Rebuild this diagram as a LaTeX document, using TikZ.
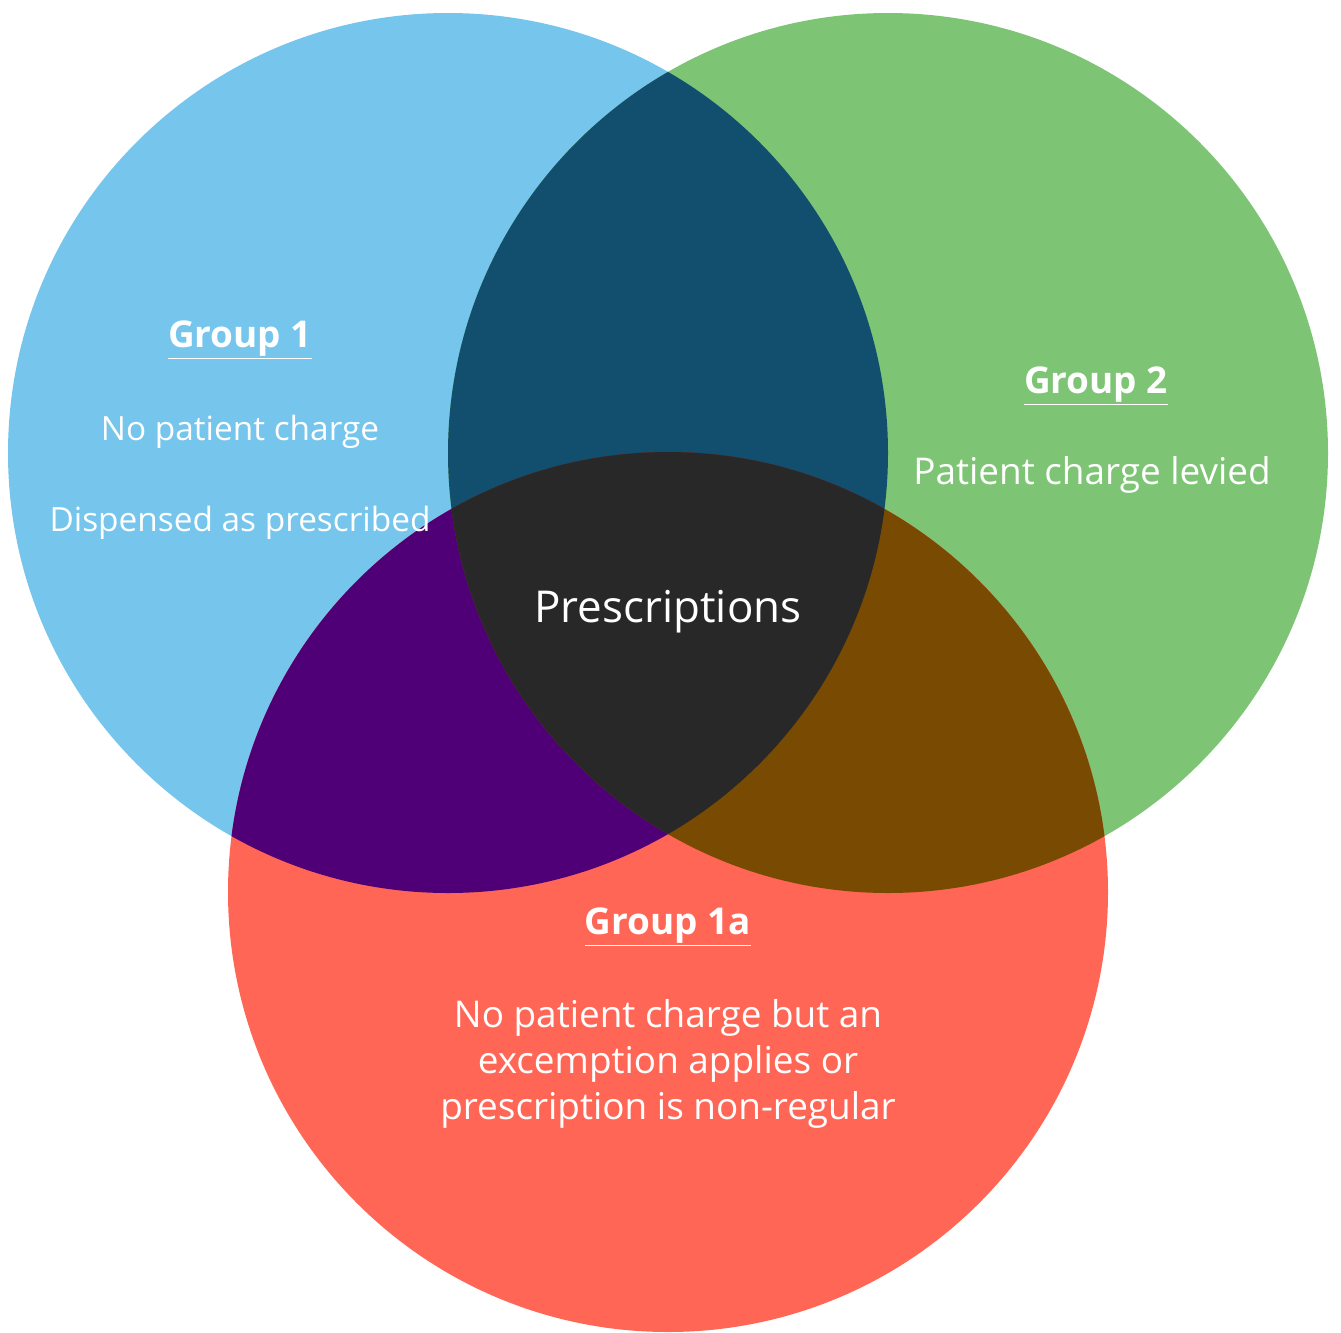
\documentclass[tikz,border=0pt]{standalone}
\usepackage{fontspec}
\setmainfont{Open Sans}
\usetikzlibrary{positioning}

\definecolor{grpone}{HTML}{75C5EC}
\definecolor{grptwo}{HTML}{7DC474}
\definecolor{grponea}{HTML}{FF6655}
\definecolor{onetwo}{HTML}{124F6E}
\definecolor{oneonea}{HTML}{4F0077}
\definecolor{twoonea}{HTML}{784A02}
\definecolor{allthree}{HTML}{282828}

\begin{document}
\begin{tikzpicture}[x=0.02cm, y=-0.02cm,
    txt/.style={text=white, inner sep=0pt, align=center},
    head/.style={txt, font=\fontsize{21}{26}\selectfont\bfseries}]
  \useasboundingbox (0,0) rectangle (1341,1332);
  \coordinate (c1) at (448,453);
  \coordinate (c2) at (888,453);
  \coordinate (c1a) at (668,892);

  % circles
  \fill[grpone] (c1) circle (440);
  \fill[grptwo] (c2) circle (440);
  \fill[grponea] (c1a) circle (440);

  % overlaps
  \begin{scope}
    \clip (c1) circle (440);
    \fill[onetwo] (c2) circle (440);
    \fill[oneonea] (c1a) circle (440);
  \end{scope}
  \begin{scope}
    \clip (c2) circle (440);
    \fill[twoonea] (c1a) circle (440);
    \clip (c1) circle (440);
    \fill[allthree] (c1a) circle (440);
  \end{scope}

  % texts
  \node[head] (g1) at (240,340) {\underline{Group 1}};
  \node[txt, font=\fontsize{19}{23}\selectfont] (g1a) at (240,432) {No patient charge};
  \node[txt, font=\fontsize{19}{23}\selectfont] (g1b) at (240,523) {Dispensed as prescribed};
  \node[head] (g2) at (1096,386) {\underline{Group 2}};
  \node[txt, font=\fontsize{21}{26}\selectfont] (g2a) at (1092,475) {Patient charge levied};
  \node[txt, font=\fontsize{25}{30}\selectfont] (presc) at (668,612) {Prescriptions};
  \node[head] (g3) at (668,927) {\underline{Group 1a}};
  \node[txt, font=\fontsize{21}{26}\selectfont] (g3a) at (668,1064)
    {No patient charge but an\\excemption applies or\\prescription is non-regular};
\end{tikzpicture}
\end{document}
